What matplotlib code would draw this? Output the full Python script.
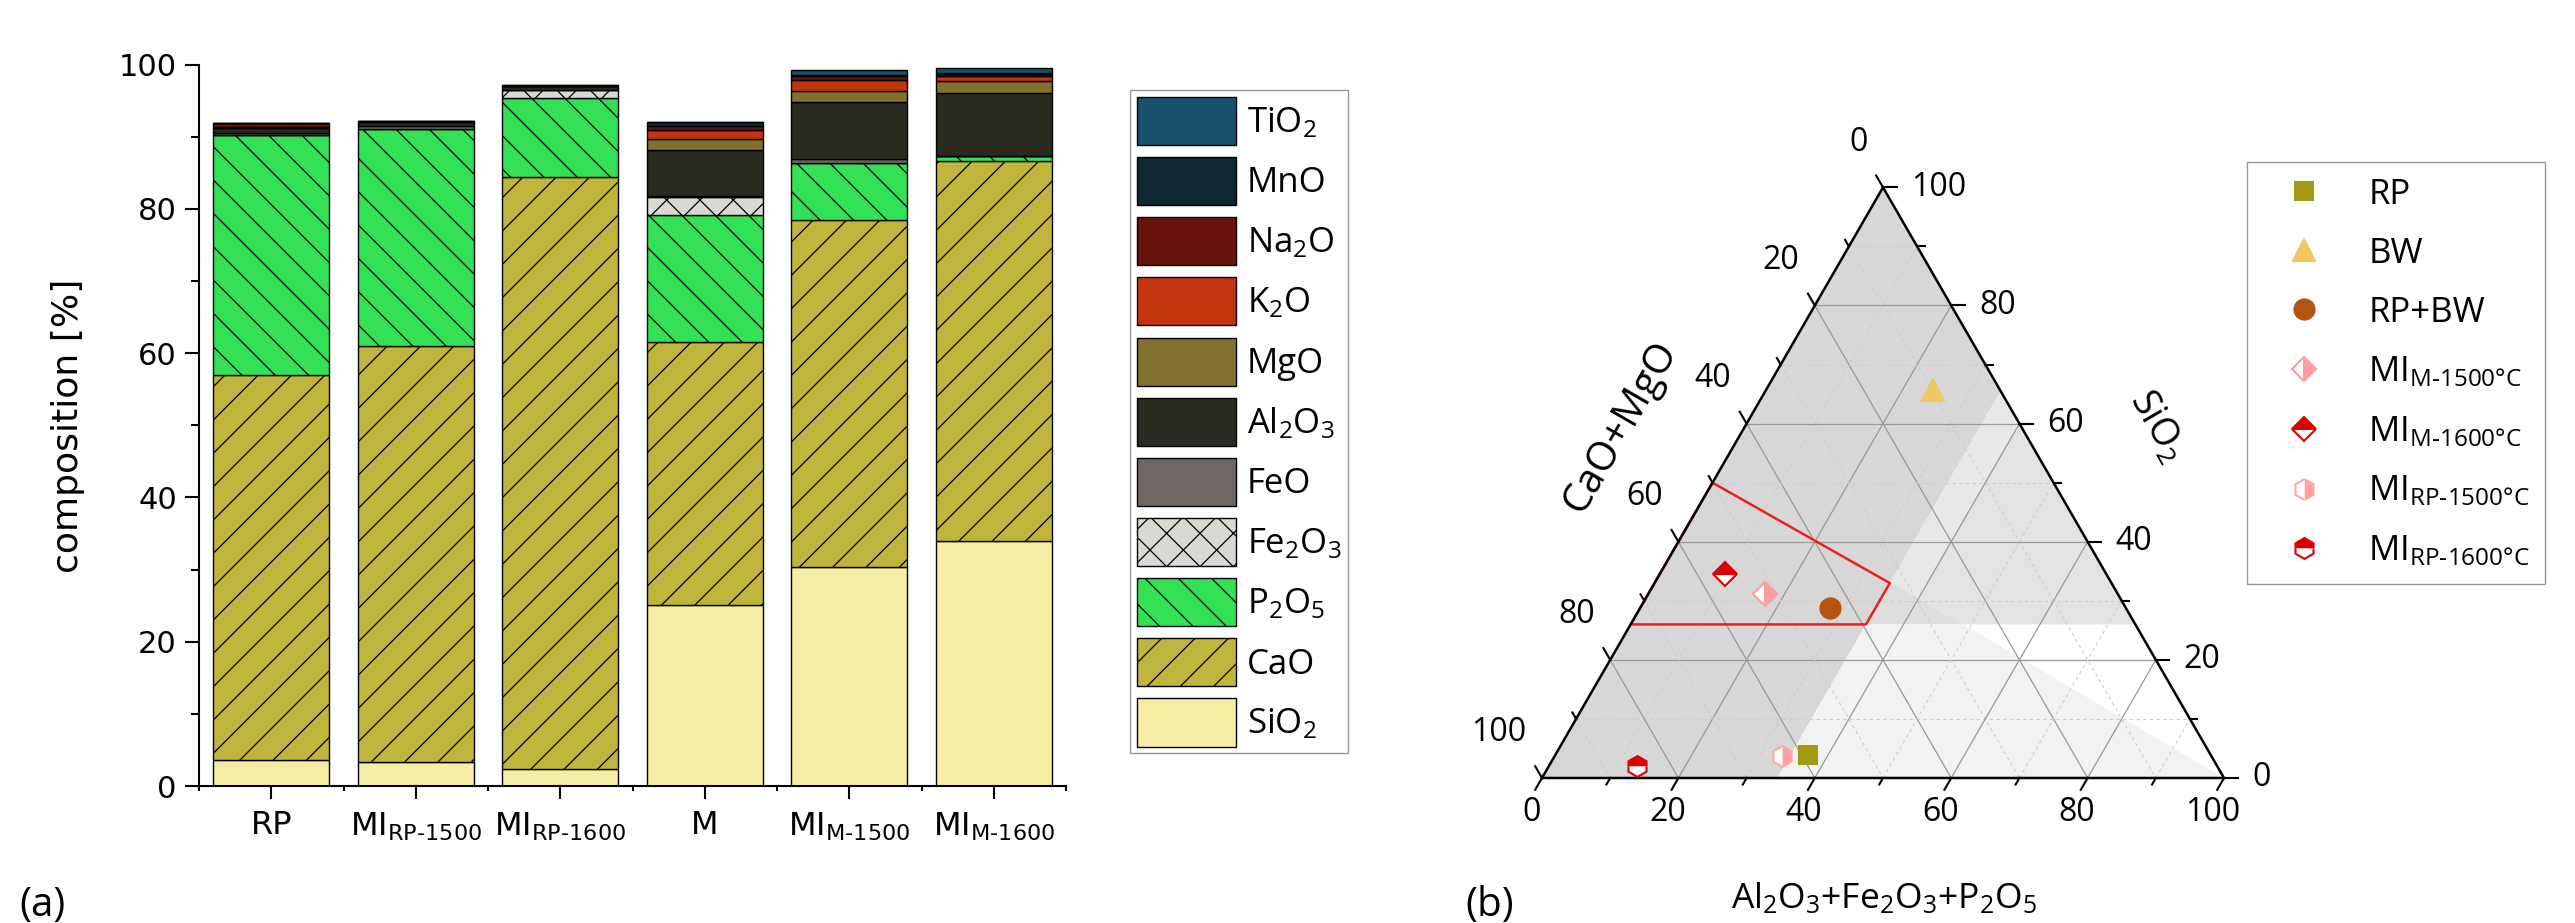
import numpy as np
import matplotlib
matplotlib.use("Agg")
import matplotlib.pyplot as plt
from matplotlib.patches import Patch, Polygon
from matplotlib.lines import Line2D

plt.rcParams['hatch.linewidth'] = 0.9
plt.rcParams['axes.linewidth'] = 1.5

NARROW = ['Liberation Sans Narrow', 'DejaVu Sans']
SANS = ['Open Sans', 'DejaVu Sans']

# ---- (a) oxide composition of the samples [wt.%] ----
SAMPLES = ['RP', r'$\mathregular{MI_{RP‐1500}}$', r'$\mathregular{MI_{RP‐1600}}$',
           'M', r'$\mathregular{MI_{M‐1500}}$', r'$\mathregular{MI_{M‐1600}}$']
SIO2 = [3.6, 3.4, 2.3, 25.1, 30.3, 33.9]
CAO = [53.4, 57.6, 82.2, 36.4, 48.2, 52.8]
P2O5 = [33.3, 30.1, 10.9, 17.6, 7.9, 0.6]
FE2O3 = [0.0, 0.0, 1.1, 2.5, 0.0, 0.0]
FEO = [0.3, 0.4, 0.0, 0.2, 0.5, 0.0]
AL2O3 = [0.6, 0.5, 0.5, 6.4, 7.9, 8.8]
MGO = [0.1, 0.1, 0.0, 1.5, 1.6, 1.7]
K2O = [0.1, 0.0, 0.0, 1.2, 1.5, 0.6]
NA2O = [0.5, 0.1, 0.1, 0.6, 0.5, 0.3]
MNO = [0.0, 0.0, 0.1, 0.5, 0.2, 0.1]
TIO2 = [0.0, 0.0, 0.0, 0.0, 0.7, 0.7]

# stacking order bottom -> top: (values, label, face colour, hatch)
STACK = [
    (SIO2, r'$\mathregular{SiO_2}$', '#f7eea6', None),
    (CAO, 'CaO', '#bfb43c', '/'),
    (P2O5, r'$\mathregular{P_2O_5}$', '#33e157', '\\'),
    (FE2O3, r'$\mathregular{Fe_2O_3}$', '#d9d9d3', 'x'),
    (FEO, 'FeO', '#6e6661', None),
    (AL2O3, r'$\mathregular{Al_2O_3}$', '#2a2a1f', None),
    (MGO, 'MgO', '#80712e', None),
    (K2O, r'$\mathregular{K_2O}$', '#c4340f', None),
    (NA2O, r'$\mathregular{Na_2O}$', '#68140d', None),
    (MNO, 'MnO', '#0e2932', None),
    (TIO2, r'$\mathregular{TiO_2}$', '#17516b', None),
]

# ---- (b) ternary positions [%]: Al2O3+Fe2O3+P2O5, SiO2, CaO+MgO ----
T_LABELS = ['RP', 'BW', 'RP+BW', r'$\mathregular{MI_{M‐1500°C}}$', r'$\mathregular{MI_{M‐1600°C}}$',
            r'$\mathregular{MI_{RP‐1500°C}}$', r'$\mathregular{MI_{RP‐1600°C}}$']
T_ALFEP = [37.0, 24.5, 27.9, 17.1, 9.6, 33.3, 12.9]
T_SIO2 = [3.9, 65.7, 28.7, 31.2, 34.6, 3.8, 2.1]
T_CAOMGO = [59.1, 9.8, 43.4, 51.7, 55.8, 62.9, 85.0]
T_STYLE = [
    dict(marker='s', ms=13, mfc='#a09b12', mec='#a09b12'),
    dict(marker='^', ms=16, mfc='#f0c862', mec='#f0c862'),
    dict(marker='o', ms=14.5, mfc='#b4530f', mec='#b4530f'),
    dict(marker='D', ms=12.5, mfc='#ffa0a0', mec='#ff9c9c', fillstyle='right', markerfacecoloralt='white'),
    dict(marker='D', ms=12.5, mfc='#dd0000', mec='#dd0000', fillstyle='top', markerfacecoloralt='white'),
    dict(marker='h', ms=15, mfc='#ffa0a0', mec='#ffa8a8', fillstyle='right', markerfacecoloralt='white'),
    dict(marker='h', ms=15, mfc='#dd0000', mec='#dd0000', fillstyle='top', markerfacecoloralt='white'),
]

# shaded fields, vertices as (Al2O3+Fe2O3+P2O5, SiO2)
FIELDS = [
    ([(0, 0), (34.5, 0), (34.5, 65.5), (0, 100)], '#d7d7d7'),
    ([(34.5, 33.25), (34.5, 65.5), (40, 60), (40, 30.5)], '#e8e8e8'),
    ([(40, 60), (40, 30.5), (48.8, 26), (74, 26)], '#e3e3e3'),
    ([(34.5, 33.25), (34.5, 26), (48.8, 26)], '#dedede'),
    ([(34.5, 0), (100, 0), (48.8, 26), (34.5, 26)], '#f2f2f2'),
]
RED_FIELD = [(0, 50), (34.5, 33), (34.5, 26), (0, 26)]


def tern(a, s):
    a = np.asarray(a, float)
    s = np.asarray(s, float)
    return a + s / 2, s * np.sqrt(3) / 2


fig = plt.figure(figsize=(25.75, 9.23), dpi=100)

# ---------------- (a) ----------------
ax = fig.add_axes([0.0773, 0.1484, 0.3367, 0.7815])
x = np.arange(1, len(SAMPLES) + 1)
bottom = np.zeros(len(SAMPLES))
handles = []
for vals, lab, col, hatch in STACK:
    ax.bar(x, vals, 0.8, bottom=bottom, color=col, edgecolor='black', lw=1, hatch=hatch, zorder=2)
    bottom += np.asarray(vals)
    handles.append(Patch(facecolor=col, edgecolor='black', lw=1, hatch=hatch, label=lab))
ax.set_xlim(0.5, 6.5)
ax.set_ylim(0, 100)
ax.set_xticks(x)
ax.set_xticklabels(SAMPLES, family=NARROW, fontsize=23)
ax.set_xticks(np.arange(0.5, 7, 1), minor=True)
ax.set_yticks(np.arange(0, 101, 20))
ax.set_yticks(np.arange(10, 100, 20), minor=True)
ax.tick_params(axis='y', which='major', length=10, width=1.5, labelsize=22, pad=6)
ax.tick_params(axis='y', which='minor', length=6, width=1.5)
ax.tick_params(axis='x', which='major', length=9.5, width=1.5, pad=8)
ax.tick_params(axis='x', which='minor', length=3.5, width=1.5)
for t in ax.get_yticklabels():
    t.set_family('DejaVu Sans')
ax.spines[['top', 'right']].set_visible(False)
ax.set_ylabel('composition [%]', family=NARROW, fontsize=26)
ax.yaxis.set_label_coords(-0.131, 0.5)

fig.legend(handles[::-1], [h.get_label() for h in handles[::-1]], loc='upper left',
           bbox_to_anchor=(0.4388, 0.9025), borderaxespad=0, fancybox=False,
           edgecolor='#999999', framealpha=1, prop=dict(family=SANS, size=25),
           handlelength=2.85, handleheight=1.75, labelspacing=0.35, borderpad=0.2,
           handletextpad=0.32)
fig.text(0.0165, 0.019, '(a)', family=SANS, fontsize=29, ha='center', va='center')

# ---------------- (b) ----------------
tx = fig.add_axes([0.56175, 0.03889, 0.33903, 0.85710])
tx.set_xlim(-14, 114)
tx.set_ylim(-16, 100)
tx.axis('off')

for verts, col in FIELDS:
    xs, ys = tern([v[0] for v in verts], [v[1] for v in verts])
    tx.add_patch(Polygon(np.column_stack([xs, ys]), closed=True, fc=col, ec='none', zorder=1))

for v in range(10, 100, 10):
    major = v % 20 == 0
    kw = dict(color='#999999', lw=0.9, zorder=2) if major else \
        dict(color='#cccccc', lw=0.8, ls=(0, (3, 3)), zorder=2)
    for a0, s0, a1, s1 in [(0, v, 100 - v, v), (v, 0, v, 100 - v), (0, 100 - v, 100 - v, 0)]:
        xs, ys = tern([a0, a1], [s0, s1])
        tx.plot(xs, ys, **kw)

xs, ys = tern([p[0] for p in RED_FIELD] + [RED_FIELD[0][0]], [p[1] for p in RED_FIELD] + [RED_FIELD[0][1]])
tx.plot(xs, ys, color='#f01e1e', lw=1.8, zorder=3)

xs, ys = tern([0, 100, 0, 0], [0, 0, 100, 0])
tx.plot(xs, ys, color='black', lw=1.8, zorder=4, solid_joinstyle='miter')

h3 = np.sqrt(3) / 2
for t in range(0, 101, 10):
    L = 2.0 if t % 20 == 0 else 1.1
    bx, by = tern(t, 0)
    tx.plot([bx, bx - 0.5 * L], [by, by - h3 * L], color='black', lw=1.5, zorder=4)
    rx, ry = tern(100 - t, t)
    tx.plot([rx, rx + L], [ry, ry], color='black', lw=1.5, zorder=4)
    lx, ly = tern(0, 100 - t)
    tx.plot([lx, lx - 0.5 * L], [ly, ly + h3 * L], color='black', lw=1.5, zorder=4)
    if t % 20 == 0:
        tx.text(bx - 1.6, by - 5.1, str(t), family=SANS, fontsize=23, ha='center', va='center')
        tx.text(rx + 4.1, ry, str(t), family=SANS, fontsize=23, ha='left', va='center')
        tx.text(lx - 2.3, ly + 6.6, str(t), family=SANS, fontsize=23, ha='right', va='center')

tx.text(11.5, 51.4, 'CaO+MgO', family=SANS, fontsize=29, rotation=60, ha='center', va='center')
tx.text(90.2, 51.5, r'$\mathregular{SiO_2}$', family=SANS, fontsize=27, rotation=-60, ha='center', va='center')
tx.text(50.1, -17.6, r'$\mathregular{Al_2O_3{+}Fe_2O_3{+}P_2O_5}$', family=SANS, fontsize=25.5,
        ha='center', va='center')

t_handles = []
for a, s, lab, st in zip(T_ALFEP, T_SIO2, T_LABELS, T_STYLE):
    px, py = tern(a, s)
    tx.plot([px], [py], ls='none', mew=1.5, zorder=5, **st)
    t_handles.append(Line2D([], [], ls='none', mew=1.5, label=lab, **st))

fig.legend(handles=t_handles, loc='upper left', bbox_to_anchor=(0.8726, 0.8245), borderaxespad=0,
           fancybox=False, edgecolor='#999999', framealpha=1, prop=dict(family=SANS, size=25),
           handlelength=2.39, handletextpad=0.65, labelspacing=0.72, borderpad=0.45, numpoints=1)
fig.text(0.5786, 0.019, '(b)', family=SANS, fontsize=29, ha='center', va='center')

fig.savefig('out.png', dpi=100)
